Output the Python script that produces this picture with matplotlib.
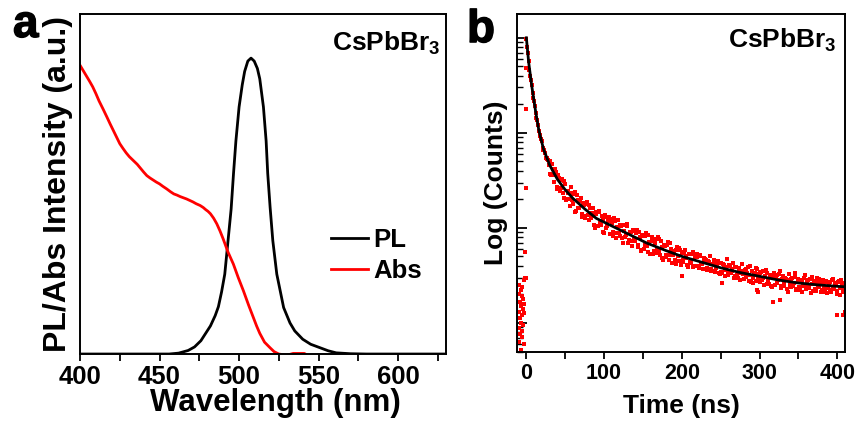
import numpy as np
import matplotlib
matplotlib.use('Agg')
import matplotlib.pyplot as plt
import matplotlib.patheffects as pe
from matplotlib.ticker import MultipleLocator, NullFormatter, LogLocator

plt.rcParams['font.family'] = ['Liberation Sans', 'DejaVu Sans']
plt.rcParams['font.weight'] = 'bold'
plt.rcParams['mathtext.fontset'] = 'custom'
plt.rcParams['mathtext.rm'] = 'Liberation Sans:bold'
plt.rcParams['mathtext.bf'] = 'Liberation Sans:bold'
plt.rcParams['axes.linewidth'] = 1.4

# ---- panel a: PL / absorption spectra (normalised) ----
pl_wl = [400, 440, 456, 462, 468, 472, 476, 479, 482, 485, 487, 489, 491, 493, 495,
         496.5, 498, 500, 502, 503.5, 505.5, 507.5, 509.5, 511.5, 513, 515.3, 517,
         518, 519.5, 521.2, 523.7, 528, 532, 535, 540, 545, 551, 556, 561, 570, 580, 630]
pl_int = [0, 0, 0, 0.003, 0.012, 0.024, 0.045, 0.07, 0.095, 0.13, 0.16, 0.21, 0.27,
          0.38, 0.49, 0.61, 0.72, 0.835, 0.91, 0.955, 0.99, 1.0, 0.99, 0.965, 0.93,
          0.835, 0.72, 0.61, 0.496, 0.383, 0.27, 0.157, 0.105, 0.078, 0.05, 0.033,
          0.021, 0.011, 0.004, 0.001, 0, 0]

abs_wl = [400, 402, 404, 406, 408, 410, 412, 414.5, 417, 419, 421, 423, 425, 427, 429,
          431, 433.5, 436, 438, 440, 442, 444, 446, 448, 450, 452, 454.5, 457, 459, 461,
          463, 465, 467, 469, 471, 473, 475.5, 477.5, 479, 480.5, 482, 484, 486, 488,
          490, 493, 496.4, 499.5, 502.7, 506, 509, 511, 513, 516, 519.5, 522, 525, 530,
          534, 541, 545]
abs_int = [0.976, 0.958, 0.94, 0.922, 0.903, 0.88, 0.855, 0.828, 0.80, 0.777, 0.755,
           0.733, 0.711, 0.695, 0.68, 0.667, 0.654, 0.641, 0.628, 0.615, 0.603, 0.595,
           0.588, 0.581, 0.575, 0.567, 0.558, 0.548, 0.541, 0.537, 0.532, 0.528, 0.524,
           0.519, 0.514, 0.508, 0.502, 0.495, 0.488, 0.482, 0.474, 0.459, 0.44, 0.416,
           0.389, 0.345, 0.304, 0.258, 0.214, 0.165, 0.123, 0.095, 0.07, 0.04, 0.021,
           0.008, 0, -0.004, 0.002, 0.002, -0.01]

# ---- panel b: TRPL decay (log10 counts) ----
t_even = list(range(0, 411, 2))
log_even = [3.99, 3.84, 3.66, 3.56, 3.42, 3.34, 3.21, 3.13, 3.02, 2.97,
            2.91, 2.82, 2.79, 2.72, 2.71,
            2.70, 2.56, 2.62, 2.48, 2.59, 2.41, 2.52, 2.42, 2.51, 2.31,
            2.46, 2.30, 2.37, 2.23, 2.37, 2.25, 2.38, 2.18, 2.29, 2.21,
            2.31, 2.11, 2.24, 2.13, 2.27, 2.08, 2.21, 2.12, 2.21, 2.00,
            2.15, 2.02, 2.18, 2.03, 2.09, 1.95, 2.11, 2.02, 2.11, 1.94,
            2.05, 1.91, 2.07, 1.95, 2.08, 1.91, 2.02, 1.84, 1.97, 1.92,
            2.02, 1.87, 1.96, 1.81, 1.97, 1.86, 1.98, 1.80, 1.90, 1.76,
            1.92, 1.82, 1.95, 1.75, 1.85, 1.73, 1.86, 1.76, 1.88, 1.78,
            1.88, 1.71, 1.80, 1.66, 1.81, 1.71, 1.85, 1.66, 1.78, 1.71,
            1.76, 1.62, 1.80, 1.65, 1.77,
            1.74, 1.64, 1.77, 1.68, 1.59, 1.72, 1.63, 1.75, 1.60, 1.70,
            1.69, 1.58, 1.71, 1.62, 1.66, 1.67, 1.56, 1.65, 1.70, 1.57,
            1.55, 1.66, 1.58, 1.64, 1.53, 1.63, 1.52, 1.61, 1.56, 1.67,
            1.50, 1.60, 1.55, 1.63, 1.49, 1.59, 1.47, 1.56, 1.52, 1.62,
            1.46, 1.57, 1.53, 1.44, 1.60, 1.55, 1.42, 1.52, 1.58, 1.46,
            1.43, 1.54, 1.47, 1.40, 1.56, 1.52, 1.41, 1.49, 1.38, 1.53,
            1.40, 1.50, 1.45, 1.55, 1.37, 1.49, 1.39, 1.46, 1.33, 1.51,
            1.38, 1.47, 1.42, 1.52, 1.36, 1.46, 1.35, 1.44, 1.39, 1.50,
            1.36, 1.45, 1.40, 1.31, 1.48, 1.44, 1.34, 1.47, 1.38, 1.42,
            1.35, 1.45, 1.32, 1.43, 1.37, 1.43, 1.33, 1.46, 1.36, 1.40,
            1.34, 1.44, 1.29, 1.41, 1.36, 1.42]
t_odd = list(range(1, 410, 2))
log_odd = [3.90, 3.76, 3.60, 3.50, 3.37, 3.28, 3.16, 3.08, 2.98, 2.93,
           2.84, 2.82, 2.74, 2.73, 2.66,
           2.57, 2.67, 2.56, 2.62, 2.43, 2.56, 2.39, 2.50, 2.37, 2.49,
           2.29, 2.39, 2.30, 2.43, 2.29, 2.36, 2.17, 2.35, 2.21, 2.28,
           2.15, 2.26, 2.10, 2.25, 2.14, 2.24, 2.10, 2.16, 2.03, 2.17,
           2.02, 2.17, 2.05, 2.13, 1.96, 2.14, 2.00, 2.07, 1.94, 2.09,
           1.96, 2.10, 1.89, 2.01, 1.95, 2.03, 1.89, 2.03, 1.90, 2.04,
           1.84, 1.96, 1.86, 1.98, 1.88, 1.95, 1.82, 1.96, 1.77, 1.91,
           1.78, 1.91, 1.81, 1.93, 1.72, 1.90, 1.73, 1.84, 1.74, 1.90,
           1.76, 1.86, 1.68, 1.82, 1.69, 1.82, 1.71, 1.84, 1.63, 1.76,
           1.66, 1.77, 1.70, 1.79, 1.61,
           1.66, 1.75, 1.70, 1.61, 1.73, 1.64, 1.73, 1.59, 1.69, 1.72,
           1.60, 1.70, 1.63, 1.57, 1.68, 1.66, 1.58, 1.64, 1.55, 1.62,
           1.63, 1.54, 1.60, 1.65, 1.51, 1.54, 1.62, 1.49, 1.59, 1.55,
           1.61, 1.52, 1.57, 1.47, 1.59, 1.50, 1.58, 1.45, 1.55, 1.51,
           1.56, 1.48, 1.59, 1.50, 1.43, 1.47, 1.53, 1.44, 1.57, 1.51,
           1.52, 1.45, 1.55, 1.49, 1.41, 1.44, 1.50, 1.39, 1.48, 1.51,
           1.48, 1.42, 1.51, 1.39, 1.46, 1.41, 1.47, 1.36, 1.45, 1.40,
           1.46, 1.39, 1.48, 1.35, 1.43, 1.38, 1.45, 1.33, 1.47, 1.40,
           1.44, 1.37, 1.46, 1.41, 1.34, 1.36, 1.43, 1.39, 1.46, 1.33,
           1.42, 1.37, 1.44, 1.31, 1.40, 1.35, 1.45, 1.38, 1.42, 1.30,
           1.43, 1.37, 1.45, 1.33, 1.39]
t_out = [200, 252, 297, 298, 317, 326, 399, 407, 410]
log_out = [1.49, 1.42, 1.35, 1.33, 1.22, 1.24, 1.08, 1.08, 1.12]
t_pre = [-10, -10, -9.5, -9, -9, -8.5, -8, -8, -7.5, -7, -7, -6.5, -6, -6, -5.5,
         -5, -5, -4.5, -4, -4, -3.5, -3, -3, -2.5, -2, -1.5, -1, -0.5, -0.5, -0.2]
log_pre = [1.30, 0.95, 1.12, 1.40, 0.80, 1.05, 1.22, 0.88, 1.35, 1.00, 0.72, 1.18,
           1.28, 0.92, 1.08, 1.38, 0.85, 1.15, 0.98, 1.25, 1.45, 1.10, 0.78, 1.20,
           1.47, 1.75, 2.42, 3.25, 1.47, 3.68]

t_fit = [0, 3, 7, 12, 16, 22, 30, 40, 50, 60, 75, 90, 110, 130, 155, 180, 200, 225,
         250, 275, 300, 325, 350, 375, 400, 410]
log_fit = [4.00, 3.74, 3.49, 3.22, 3.03, 2.83, 2.66, 2.51, 2.40, 2.31, 2.20, 2.10,
           2.02, 1.94, 1.84, 1.76, 1.70, 1.64, 1.58, 1.53, 1.49, 1.45, 1.42, 1.40,
           1.385, 1.38]

fig = plt.figure(figsize=(8.61, 4.25), dpi=100)
ax1 = fig.add_axes([0.0929, 0.167, 0.425, 0.80])
ax2 = fig.add_axes([0.6005, 0.172, 0.381, 0.795])

# panel a
ax1.plot(pl_wl, pl_int, color='black', lw=2.0, label='PL')
ax1.plot(abs_wl, abs_int, color='red', lw=2.0, label='Abs')
ax1.set_xlim(400, 630)
ax1.set_ylim(0, 1.149)
ax1.set_yticks([])
ax1.xaxis.set_major_locator(MultipleLocator(50))
ax1.xaxis.set_minor_locator(MultipleLocator(25))
ax1.tick_params(axis='x', which='both', direction='out', length=5, width=1.3,
                labelsize=18.5, pad=3)
ax1.set_xlabel('Wavelength (nm)', fontsize=22.5, fontweight='bold', labelpad=-1)
ax1.xaxis.label.set_x(0.533)
ax1.set_ylabel('PL/Abs Intensity (a.u.)', fontsize=23, fontweight='bold', labelpad=5)
ax1.text(0.689, 0.894, 'CsPbBr$_3$', transform=ax1.transAxes, fontsize=19,
         fontweight='bold', va='baseline', ha='left')
ax1.legend(loc='upper left', bbox_to_anchor=(0.685, 0.372), frameon=False,
           prop={'weight': 'bold', 'size': 18.5}, handlelength=1.45,
           handletextpad=0.2, labelspacing=0.3, borderpad=0, borderaxespad=0)

# panel b
ax2.plot(t_even + t_odd + t_out + t_pre,
         10 ** np.array(log_even + log_odd + log_out + log_pre),
         's', ms=3.2, mew=0, color='red')
ax2.plot(t_fit, 10 ** np.array(log_fit), color='black', lw=2.0)
ax2.set_yscale('log')
ax2.set_xlim(-12, 410)
ax2.set_ylim(10 ** 0.695, 10 ** 4.25)
ax2.xaxis.set_major_locator(MultipleLocator(100))
ax2.xaxis.set_minor_locator(MultipleLocator(50))
ax2.yaxis.set_major_locator(LogLocator(base=10))
ax2.yaxis.set_minor_locator(LogLocator(base=10, subs=np.arange(2, 10)))
ax2.yaxis.set_major_formatter(NullFormatter())
ax2.yaxis.set_minor_formatter(NullFormatter())
ax2.tick_params(axis='x', which='both', direction='out', length=5, width=1.3,
                labelsize=15.5, pad=3)
ax2.tick_params(axis='y', which='major', direction='in', length=7, width=1.3)
ax2.tick_params(axis='y', which='minor', direction='in', length=4, width=1.0)
ax2.set_xlabel('Time (ns)', fontsize=19, fontweight='bold', labelpad=7)
ax2.set_ylabel('Log (Counts)', fontsize=19, fontweight='bold', labelpad=3)
ax2.text(0.643, 0.902, 'CsPbBr$_3$', transform=ax2.transAxes, fontsize=19,
         fontweight='bold', va='baseline', ha='left')

thick = [pe.withStroke(linewidth=1.0, foreground='black')]
fig.text(13 / 861, 0.913, 'a', fontsize=33, fontweight='bold', va='baseline',
         path_effects=thick)
fig.text(467 / 861, 0.901, 'b', fontsize=33, fontweight='bold', va='baseline',
         path_effects=thick)

fig.savefig('out.png', dpi=100)
